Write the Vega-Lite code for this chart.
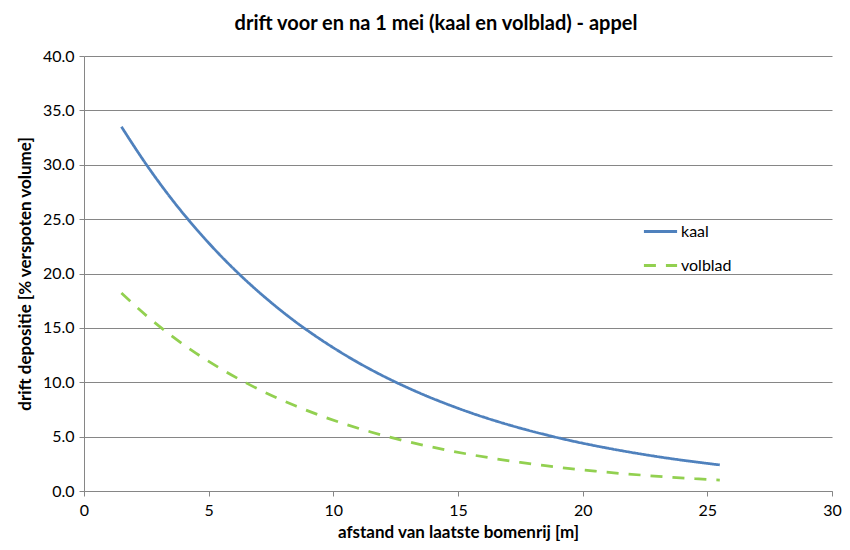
{
  "$schema": "https://vega.github.io/schema/vega-lite/v6.json",
  "width": 850,
  "height": 550,
  "autosize": {"type": "fit", "contains": "padding"},
  "padding": {"left": 16, "right": 8, "top": 14, "bottom": 10},
  "background": "white",
  "title": {"text": "drift voor en na 1 mei (kaal en volblad) - appel", "font": "Lato", "fontSize": 20, "fontWeight": "bold", "color": "#000000", "offset": 14, "frame": "group", "dx": -22},
  "config": {"view": {"stroke": null}, "font": "Lato"},
  "data": {"values": [
    {"x": 1.5, "y": 33.5, "series": "kaal"},
    {"x": 2.5, "y": 30.02, "series": "kaal"},
    {"x": 3.5, "y": 26.89, "series": "kaal"},
    {"x": 4.5, "y": 24.10, "series": "kaal"},
    {"x": 5.5, "y": 21.59, "series": "kaal"},
    {"x": 6.5, "y": 19.35, "series": "kaal"},
    {"x": 7.5, "y": 17.34, "series": "kaal"},
    {"x": 8.5, "y": 15.53, "series": "kaal"},
    {"x": 9.5, "y": 13.92, "series": "kaal"},
    {"x": 10.5, "y": 12.47, "series": "kaal"},
    {"x": 11.5, "y": 11.17, "series": "kaal"},
    {"x": 12.5, "y": 10.01, "series": "kaal"},
    {"x": 13.5, "y": 8.97, "series": "kaal"},
    {"x": 14.5, "y": 8.04, "series": "kaal"},
    {"x": 15.5, "y": 7.20, "series": "kaal"},
    {"x": 16.5, "y": 6.45, "series": "kaal"},
    {"x": 17.5, "y": 5.78, "series": "kaal"},
    {"x": 18.5, "y": 5.18, "series": "kaal"},
    {"x": 19.5, "y": 4.64, "series": "kaal"},
    {"x": 20.5, "y": 4.16, "series": "kaal"},
    {"x": 21.5, "y": 3.73, "series": "kaal"},
    {"x": 22.5, "y": 3.34, "series": "kaal"},
    {"x": 23.5, "y": 2.99, "series": "kaal"},
    {"x": 24.5, "y": 2.68, "series": "kaal"},
    {"x": 25.5, "y": 2.40, "series": "kaal"},
    {"x": 1.5, "y": 18.2, "series": "volblad"},
    {"x": 2.5, "y": 16.13, "series": "volblad"},
    {"x": 3.5, "y": 14.29, "series": "volblad"},
    {"x": 4.5, "y": 12.66, "series": "volblad"},
    {"x": 5.5, "y": 11.22, "series": "volblad"},
    {"x": 6.5, "y": 9.94, "series": "volblad"},
    {"x": 7.5, "y": 8.81, "series": "volblad"},
    {"x": 8.5, "y": 7.81, "series": "volblad"},
    {"x": 9.5, "y": 6.92, "series": "volblad"},
    {"x": 10.5, "y": 6.13, "series": "volblad"},
    {"x": 11.5, "y": 5.43, "series": "volblad"},
    {"x": 12.5, "y": 4.81, "series": "volblad"},
    {"x": 13.5, "y": 4.27, "series": "volblad"},
    {"x": 14.5, "y": 3.78, "series": "volblad"},
    {"x": 15.5, "y": 3.35, "series": "volblad"},
    {"x": 16.5, "y": 2.97, "series": "volblad"},
    {"x": 17.5, "y": 2.63, "series": "volblad"},
    {"x": 18.5, "y": 2.33, "series": "volblad"},
    {"x": 19.5, "y": 2.06, "series": "volblad"},
    {"x": 20.5, "y": 1.83, "series": "volblad"},
    {"x": 21.5, "y": 1.62, "series": "volblad"},
    {"x": 22.5, "y": 1.44, "series": "volblad"},
    {"x": 23.5, "y": 1.27, "series": "volblad"},
    {"x": 24.5, "y": 1.13, "series": "volblad"},
    {"x": 25.5, "y": 1.00, "series": "volblad"}
  ]},
  "mark": {"type": "line", "interpolate": "monotone", "strokeWidth": 2.75},
  "encoding": {
    "x": {"field": "x", "type": "quantitative",
      "scale": {"domain": [0, 30], "nice": false},
      "axis": {"title": "afstand van laatste bomenrij [m]", "values": [0, 5, 10, 15, 20, 25, 30], "grid": false,
        "domainColor": "#868686", "tickColor": "#868686", "tickSize": 5, "labelFontSize": 16, "labelColor": "#000000", "labelPadding": 6,
        "titleFontSize": 17, "titleFontWeight": "bold", "titleColor": "#000000", "titlePadding": 6, "labelFlush": false}},
    "y": {"field": "y", "type": "quantitative",
      "scale": {"domain": [0, 40], "nice": false},
      "axis": {"title": "drift depositie [% verspoten volume]", "values": [0, 5, 10, 15, 20, 25, 30, 35, 40], "format": ".1f",
        "grid": true, "gridColor": "#868686", "gridWidth": 1, "domainColor": "#868686", "tickColor": "#868686", "tickSize": 5,
        "labelFontSize": 16, "labelColor": "#000000", "labelPadding": 5,
        "titleFontSize": 17, "titleFontWeight": "bold", "titleColor": "#000000", "titlePadding": 8}},
    "color": {"field": "series", "type": "nominal",
      "scale": {"domain": ["kaal", "volblad"], "range": ["#4F81BD", "#92D050"]},
      "legend": {"title": null, "orient": "none", "legendX": 558, "legendY": 157, "symbolType": "stroke", "symbolSize": 1100,
        "symbolStrokeWidth": 3, "labelFontSize": 16, "labelColor": "#000000", "rowPadding": 7, "labelOffset": 2}},
    "strokeDash": {"field": "series", "type": "nominal",
      "scale": {"domain": ["kaal", "volblad"], "range": [[1, 0], [12, 10]]},
      "legend": {"title": null, "orient": "none", "legendX": 558, "legendY": 157, "symbolType": "stroke", "symbolSize": 1100,
        "symbolStrokeWidth": 3, "labelFontSize": 16, "labelColor": "#000000", "rowPadding": 7, "labelOffset": 2}}
  }
}
